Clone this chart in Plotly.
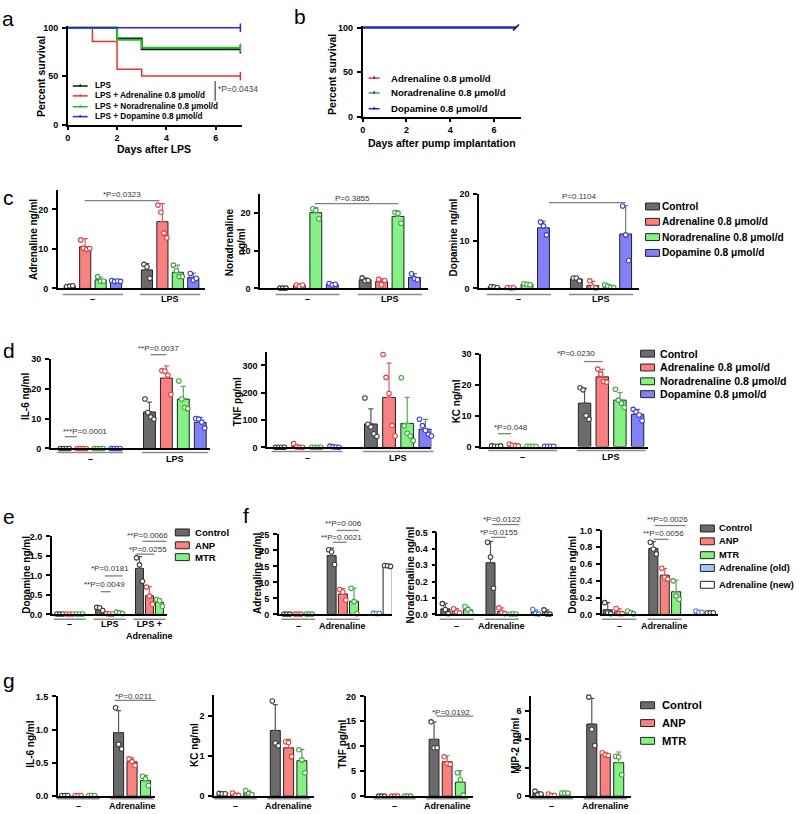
import plotly.graph_objects as go

W, H = 800, 814
FONT = "Liberation Sans"

# ---------------- data ----------------
# a: survival after LPS (percent)
DAYS_A = [0, 1, 2, 3, 7]
LPS_SURV = [100, 100, 88.9, 77.8, 77.8]
LPS_ADR_SURV = [100, 85.7, 57.1, 50.0, 50.0]
LPS_NOR_SURV = [100, 100, 87.5, 79.2, 79.2]
LPS_DOP_SURV = [100, 100, 100, 100, 100]
A_LABELS = ["LPS", "LPS + Adrenaline 0.8 μmol/d", "LPS + Noradrenaline 0.8 μmol/d",
            "LPS + Dopamine 0.8 μmol/d"]

# b: survival after pump implantation
DAYS_B = [0, 7]
ADR_SURV = [100, 100]
NOR_SURV = [100, 100]
DOP_SURV = [100, 100]
B_LABELS = ["Adrenaline 0.8 μmol/d", "Noradrenaline 0.8 μmol/d", "Dopamine 0.8 μmol/d"]

# c/d: groups "–" and "LPS", 4 pumps each
CD_GROUPS = ["–", "LPS"]
CD_SIZES = [4, 4]
CD_CONDS = ["ctrl", "adr", "nor", "dop"] * 2
CD_LABELS = ["Control", "Adrenaline 0.8 μmol/d", "Noradrenaline 0.8 μmol/d", "Dopamine 0.8 μmol/d"]

C_ADR_MEAN = [0.6, 10.6, 2.2, 1.9, 4.7, 16.9, 4.1, 2.8]
C_ADR_SD = [0.1, 2.0, 0.7, 0.1, 1.6, 4.6, 1.8, 1.1]
C_ADR_PTS = [[0.5, 0.6, 0.7], [12.3, 10.2, 9.9, 10.1], [3.0, 1.8, 1.9], [2.0, 1.8, 1.9, 1.8],
             [6.1, 5.5, 2.6], [21.1, 19.3, 14.0, 12.8], [5.9, 4.5, 3.0, 3.0], [3.8, 2.1, 2.6]]

C_NOR_MEAN = [0.1, 0.8, 20.0, 1.1, 2.3, 1.8, 19.0, 2.9]
C_NOR_SD = [0.05, 0.2, 1.3, 0.2, 0.5, 0.7, 1.4, 1.0]
C_NOR_PTS = [[0.1, 0.1, 0.1], [0.9, 0.6, 0.9], [21.0, 20.6, 18.4], [1.3, 1.0, 1.1],
             [2.8, 2.0, 2.1], [2.4, 1.0, 2.1], [20.0, 19.8, 17.2], [3.9, 2.6, 2.3]]

C_DOP_MEAN = [0.3, 0.15, 0.9, 12.8, 2.0, 0.6, 0.4, 11.5]
C_DOP_SD = [0.1, 0.05, 0.1, 1.4, 0.3, 0.9, 0.3, 6.0]
C_DOP_PTS = [[0.4, 0.3, 0.2], [0.2, 0.1, 0.15], [1.0, 0.9, 0.8], [14.0, 13.2, 11.3],
             [2.2, 2.2, 1.6], [1.6, 0.3, 0.1], [0.8, 0.5, 0.2, 0.2], [17.4, 11.3, 5.9]]

D_IL6_MEAN = [0.05, 0.05, 0.05, 0.05, 12.2, 23.5, 16.5, 8.7]
D_IL6_SD = [0, 0, 0, 0, 3.3, 4.1, 4.2, 1.7]
D_IL6_PTS = [[0, 0, 0, 0], [0, 0, 0, 0], [0, 0, 0, 0], [0, 0, 0, 0],
             [16.5, 12.0, 10.5, 9.8], [26.0, 25.8, 24.5, 18.0], [22.5, 16.5, 13.7, 13.3], [10.0, 9.8, 8.8, 6.8]]

D_TNF_MEAN = [1, 4, 1, 3, 86, 183, 88, 67]
D_TNF_SD = [0.5, 5, 0.5, 1.5, 55, 125, 95, 36]
D_TNF_PTS = [[1, 1, 1, 1], [14, 2, 1, 1], [1, 1, 1, 1], [5, 3, 2, 1],
             [181, 85, 75, 50, 40], [340, 256, 197, 80, 42], [255, 79, 52, 42, 25], [103, 80, 62, 48, 42]]

D_KC_MEAN = [0.15, 0.4, 0.1, 0.1, 14.0, 22.5, 15.0, 10.4]
D_KC_SD = [0.05, 0.25, 0.02, 0.02, 4.8, 2.4, 2.4, 1.6]
D_KC_PTS = [[0.2, 0.1, 0.1, 0.2], [0.8, 0.4, 0.3, 0.2], [0.1, 0.1, 0.1, 0.1], [0.1, 0.1, 0.1, 0.1],
            [19.0, 18.3, 10.0, 8.8], [25.0, 23.4, 21.0, 20.8], [18.5, 15.0, 14.0, 12.6], [12.0, 11.2, 10.2, 8.3]]

# e: dopamine with ANP / MTR
E_GROUPS = ["–", "LPS", "LPS +<br>Adrenaline"]
E_SIZES = [3, 3, 3]
E_CONDS = ["ctrl", "adr", "nor"] * 3
E_MEAN = [0.01, 0.01, 0.01, 0.15, 0.01, 0.04, 1.18, 0.48, 0.31]
E_SD = [0, 0, 0, 0.03, 0.005, 0.02, 0.30, 0.23, 0.09]
E_PTS = [[0.01, 0.01, 0.01], [0.01, 0.01, 0.01], [0.01, 0.01, 0.01],
         [0.18, 0.17, 0.10], [0.02, 0.01, 0.01], [0.06, 0.04, 0.02],
         [1.45, 1.27, 0.85], [0.70, 0.47, 0.26], [0.38, 0.35, 0.21]]
EG_LABELS = ["Control", "ANP", "MTR"]

# f: catecholamines after adrenaline
F_GROUPS = ["–", "Adrenaline", ""]
F_SIZES = [3, 3, 2]
F_CONDS = ["ctrl", "adr", "nor", "ctrl", "adr", "nor", "old", "new"]
F_LABELS = ["Control", "ANP", "MTR", "Adrenaline (old)", "Adrenaline (new)"]

F_ADR_MEAN = [0.1, 0.1, 0.1, 18.4, 6.4, 4.1, 0.3, 15.1]
F_ADR_SD = [0, 0, 0, 2.3, 1.7, 4.1, 0.1, 0.2]
F_ADR_PTS = [[0.1, 0.1, 0.1], [0.1, 0.1, 0.1], [0.1, 0.1, 0.1], [20.2, 19.5, 15.6],
             [7.8, 7.0, 4.5], [8.2, 4.0, 0.2], [0.4, 0.3, 0.3], [15.3, 15.2, 15.0]]

F_NOR_MEAN = [0.034, 0.02, 0.028, 0.315, 0.018, 0.003, 0.012, 0.01]
F_NOR_SD = [0.034, 0.015, 0.017, 0.13, 0.022, 0.001, 0.016, 0.018]
F_NOR_PTS = [[0.066, 0.03, 0.005], [0.035, 0.015, 0.01], [0.048, 0.03, 0.01], [0.44, 0.35, 0.16],
             [0.04, 0.01, 0.005], [0.003, 0.003, 0.003], [0.03, 0.005, 0.002], [0.028, 0.002, 0.002]]

F_DOP_MEAN = [0.055, 0.03, 0.03, 0.786, 0.467, 0.27, 0.03, 0.02]
F_DOP_SD = [0.085, 0.04, 0.015, 0.08, 0.08, 0.14, 0.01, 0.005]
F_DOP_PTS = [[0.14, 0.02, 0.01], [0.07, 0.01, 0.01], [0.04, 0.02, 0.005], [0.86, 0.78, 0.72],
             [0.55, 0.44, 0.42], [0.40, 0.22, 0.18], [0.04, 0.025, 0.025], [0.02, 0.02, 0.02]]

# g: cytokines after adrenaline
G_GROUPS = ["–", "Adrenaline"]
G_SIZES = [3, 3]
G_CONDS = ["ctrl", "adr", "nor"] * 2

G_IL6_MEAN = [0.01, 0.01, 0.01, 0.955, 0.517, 0.234]
G_IL6_SD = [0, 0, 0, 0.33, 0.06, 0.08]
G_IL6_PTS = [[0.01, 0.01, 0.01], [0.01, 0.01, 0.01], [0.01, 0.01, 0.01],
             [1.33, 0.78, 0.71], [0.56, 0.52, 0.46], [0.30, 0.26, 0.16]]

G_KC_MEAN = [0.06, 0.04, 0.08, 1.63, 1.2, 0.88]
G_KC_SD = [0.01, 0.03, 0.05, 0.64, 0.21, 0.28]
G_KC_PTS = [[0.07, 0.06, 0.06], [0.08, 0.02, 0.02], [0.14, 0.07, 0.04],
            [2.36, 1.32, 1.25], [1.35, 1.33, 0.98], [1.15, 0.9, 0.58]]

G_TNF_MEAN = [0.05, 0.05, 0.05, 11.4, 6.9, 2.8]
G_TNF_SD = [0, 0, 0, 3.5, 1.2, 2.3]
G_TNF_PTS = [[0, 0, 0], [0, 0, 0], [0, 0, 0], [14.9, 9.7, 9.7], [7.9, 6.5, 6.4], [4.7, 3.3, 0.2]]

G_MIP_MEAN = [0.2, 0.1, 0.2, 5.06, 2.93, 2.35]
G_MIP_SD = [0.12, 0.05, 0.02, 1.8, 0.15, 0.75]
G_MIP_PTS = [[0.35, 0.1, 0.15], [0.15, 0.05, 0.05], [0.22, 0.22, 0.22],
             [6.95, 4.7, 3.55], [3.05, 2.9, 2.85], [2.8, 2.75, 1.5]]

# ---------------- styles ----------------
FILL = {"ctrl": "#6b6b6b", "adr": "#fb8080", "nor": "#82f282", "dop": "#8080fb",
        "old": "#a4c8f4", "new": "#ffffff"}
EDGE = {"ctrl": "#3c3c3c", "adr": "#ea3b3b", "nor": "#3aa63a", "dop": "#3b3be6",
        "old": "#4a7fd8", "new": "#3c3c3c"}
ERR = {"ctrl": "#555555", "adr": "#e05a5a", "nor": "#5aa85a", "dop": "#777777",
       "old": "#4a7fd8", "new": "#555555"}

fig = go.Figure()
n_axes = 0


def px(x):
    return x / W


def py(y):
    return 1 - y / H


def text(x, y, s, size, bold=False, color="black", xanchor="center", yanchor="middle", angle=0):
    fig.add_annotation(x=px(x), y=py(y), xref="paper", yref="paper", text=s, showarrow=False,
                       font=dict(family=FONT, size=size, color=color, weight="bold" if bold else "normal"),
                       xanchor=xanchor, yanchor=yanchor, textangle=angle, borderpad=0)


def hline(x0, x1, y, color="#808080", width=1.3):
    fig.add_shape(type="line", xref="paper", yref="paper", x0=px(x0), x1=px(x1), y0=py(y), y1=py(y),
                  line=dict(color=color, width=width))


def make_axes(left, right, top, bottom, xrange, yrange, yticks, yfmt=None, xticks=None):
    global n_axes
    n_axes += 1
    s = "" if n_axes == 1 else str(n_axes)
    tickfont = dict(family=FONT, size=9, color="black", weight="bold")
    fig.update_layout(**{
        "xaxis" + s: dict(domain=[px(left), px(right)], range=xrange, anchor="y" + s,
                          showline=True, linecolor="black", linewidth=1.6, showgrid=False,
                          zeroline=False, ticks="outside" if xticks else "", tickvals=xticks or [],
                          showticklabels=bool(xticks), ticklen=4, tickwidth=1.5, tickcolor="black",
                          tickfont=tickfont, ticklabelstandoff=0),
        "yaxis" + s: dict(domain=[py(bottom), py(top)], range=yrange, anchor="x" + s,
                          showline=True, linecolor="black", linewidth=1.6, showgrid=False,
                          zeroline=False, ticks="outside", tickvals=yticks, ticklen=4,
                          tickwidth=1.5, tickcolor="black", tickfont=tickfont,
                          tickformat=yfmt, ticklabelstandoff=2),
    })
    return "x" + s, "y" + s


def bar_panel(box, yrange, yticks, ytitles, groups, sizes, conds, means, sds, pts,
              width=0.72, yfmt=None, pad=0.45, ul=5, lab=11):
    left, right, first_px, last_px, top, bottom = box
    pos = []
    p = 0
    for n in sizes:
        pos.extend(range(p, p + n))
        p += n + 1
    unit = (last_px - first_px) / pos[-1]
    xrange = [-(first_px - left) / unit, pos[-1] + (right - last_px) / unit]
    xr, yr = make_axes(left, right, top, bottom, xrange, yrange, yticks, yfmt)

    for key in dict.fromkeys(conds):
        idx = [i for i, c in enumerate(conds) if c == key]
        fig.add_trace(go.Bar(
            x=[pos[i] for i in idx], y=[means[i] for i in idx], width=width,
            marker=dict(color=FILL[key], line=dict(color="#222222", width=1)),
            error_y=dict(type="data", symmetric=False, array=[sds[i] for i in idx],
                         arrayminus=[0] * len(idx), color=ERR[key], thickness=1.2, width=2.5),
            xaxis=xr, yaxis=yr, cliponaxis=False))
        dx, dy = [], []
        for i in idx:
            n = len(pts[i])
            for j, v in enumerate(pts[i]):
                dx.append(pos[i] + (j - (n - 1) / 2) * 3.0 / unit)
                dy.append(v)
        fig.add_trace(go.Scatter(
            x=dx, y=dy, mode="markers", xaxis=xr, yaxis=yr, cliponaxis=False,
            marker=dict(size=4.5, color="white", line=dict(color=EDGE[key], width=1.1))))

    # group underlines and labels
    start = 0
    for g, n in zip(groups, sizes):
        if g:
            a = pos[start] - pad
            b = pos[start + n - 1] + pad
            x0 = left + (a - xrange[0]) * unit
            x1 = left + (b - xrange[0]) * unit
            hline(x0, x1, bottom + ul, color="#8a8a8a", width=1.5)
            text((x0 + x1) / 2, bottom + lab - 6, g, 9, bold=True, yanchor="top")
        start += n
    for label, tx, ty in ytitles:
        text(tx, ty, label, 10, bold=True, angle=-90)


def stat(label, tx, ty, x0, x1, ly):
    text(tx, ty, label, 8, color="#333333")
    hline(x0, x1, ly)


def square_legend(x_sq, x_txt, rows, keys, labels, size):
    for y, k, lab in zip(rows, keys, labels):
        fig.add_shape(type="rect", xref="paper", yref="paper", x0=px(x_sq), x1=px(x_sq + 14),
                      y0=py(y + 3.5), y1=py(y - 3.5), fillcolor=FILL[k],
                      line=dict(color="#222222", width=1))
        text(x_txt, y, lab, size, bold=True, xanchor="left")


# ---------------- panel a ----------------
xa, ya = make_axes(65, 240, 21, 121, [0, 7.07], [0, 102], [0, 50, 100], xticks=[0, 2, 4, 6])
a_series = [(LPS_SURV, "#111111", 2.0), (LPS_ADR_SURV, "#f03030", 1.5),
            (LPS_NOR_SURV, "#1fc01f", 2.0), (LPS_DOP_SURV, "#2424f0", 1.5)]
for vals, col, lw in a_series:
    fig.add_trace(go.Scatter(x=DAYS_A, y=vals, mode="lines", line=dict(shape="hv", color=col, width=lw),
                             xaxis=xa, yaxis=ya, cliponaxis=False))
    fig.add_trace(go.Scatter(x=[DAYS_A[-1]], y=[vals[-1]], mode="markers", xaxis=xa, yaxis=ya,
                             cliponaxis=False,
                             marker=dict(symbol="line-ns", size=6, line=dict(color=col, width=1.5))))
for (vals, col, lw), lab, y in zip(a_series, A_LABELS, [82, 92, 103, 113]):
    hline(70, 85, y, color=col, width=1.5)
    fig.add_shape(type="line", xref="paper", yref="paper", x0=px(77.5), x1=px(77.5), y0=py(y - 2),
                  y1=py(y + 1), line=dict(color=col, width=1))
    text(91, y, lab, 8.2, bold=True, xanchor="left")
fig.add_shape(type="line", xref="paper", yref="paper", x0=px(213), x1=px(213), y0=py(77), y1=py(97),
              line=dict(color="#555555", width=1.3))
text(215, 85, "*P=0.0434", 8.5, color="#444444", xanchor="left")
text(38, 72, "Percent survival", 10.5, bold=True, angle=-90)
text(152, 146, "Days after LPS", 10.5, bold=True)
text(5, 14, "a", 21)

# ---------------- panel b ----------------
xb, yb = make_axes(361, 520, 21, 113, [0, 7.23], [0, 102], [0, 50, 100], xticks=[0, 2, 4, 6])
b_series = [(ADR_SURV, "#f03030"), (NOR_SURV, "#2aa878"), (DOP_SURV, "#2424f0")]
for vals, col in b_series:
    fig.add_trace(go.Scatter(x=DAYS_B, y=vals, mode="lines", line=dict(shape="hv", color=col, width=1.8),
                             xaxis=xb, yaxis=yb, cliponaxis=False))
fig.add_trace(go.Scatter(x=[DAYS_B[-1]], y=[DOP_SURV[-1]], mode="markers", xaxis=xb, yaxis=yb,
                         cliponaxis=False,
                         marker=dict(symbol="line-ne", size=6, line=dict(color="#111111", width=1.5))))
for (vals, col), lab, y in zip(b_series, B_LABELS, [74, 89, 105]):
    hline(367, 378, y, color=col, width=1.5)
    fig.add_shape(type="line", xref="paper", yref="paper", x0=px(372.5), x1=px(372.5), y0=py(y - 2),
                  y1=py(y + 1), line=dict(color="#111111", width=1))
    text(388, y, lab, 9.6, bold=True, xanchor="left")
text(330, 70, "Percent survival", 10.5, bold=True, angle=-90)
text(441, 140, "Days after pump implantation", 10.5, bold=True)
text(298, 12, "b", 21)

# ---------------- panel c ----------------
bar_panel((55, 203, 67, 191, 187, 287), [0, 25], [0, 10, 20], [("Adrenaline ng/ml", 30, 237)],
          CD_GROUPS, CD_SIZES, CD_CONDS, C_ADR_MEAN, C_ADR_SD, C_ADR_PTS, ul=6)
bar_panel((258, 427, 281, 413, 191, 287), [0, 25], [0, 10, 20],
          [("Noradrenaline", 227, 240), ("ng/ml", 239, 240)],
          CD_GROUPS, CD_SIZES, CD_CONDS, C_NOR_MEAN, C_NOR_SD, C_NOR_PTS, ul=6)
bar_panel((478, 638, 493, 625, 191, 287), [0, 20], [0, 10, 20], [("Dopamine ng/ml", 452, 235)],
          CD_GROUPS, CD_SIZES, CD_CONDS, C_DOP_MEAN, C_DOP_SD, C_DOP_PTS, ul=6)
stat("*P=0.0323", 119, 192, 82, 157, 198)
stat("P=0.3855", 351, 196, 313, 397, 201)
stat("P=0.1104", 578, 194, 548, 625, 200)
square_legend(645, 660, [204, 219.5, 235, 251], ["ctrl", "adr", "nor", "dop"], CD_LABELS, 10.2)
text(6, 195, "c", 21)

# ---------------- panel d ----------------
bar_panel((48, 208, 62, 198, 358, 449), [0, 30], [0, 10, 20, 30], [("IL-6 ng/ml", 22, 396)],
          CD_GROUPS, CD_SIZES, CD_CONDS, D_IL6_MEAN, D_IL6_SD, D_IL6_PTS, width=0.7, ul=4)
bar_panel((265, 430, 278, 424, 351, 448), [0, 350], [0, 100, 200, 300], [("TNF pg/ml", 235, 402)],
          CD_GROUPS, CD_SIZES, CD_CONDS, D_TNF_MEAN, D_TNF_SD, D_TNF_PTS, width=0.7, ul=4)
bar_panel((480, 647, 495, 637, 353, 447), [0, 30], [0, 10, 20, 30], [("KC ng/ml", 455, 401)],
          CD_GROUPS, CD_SIZES, CD_CONDS, D_KC_MEAN, D_KC_SD, D_KC_PTS, width=0.7, ul=4)
stat("**P=0.0037", 156, 348, 148, 164, 354)
stat("***P=0.0001", 82, 432, 62, 74, 437)
stat("*P=0.0230", 575, 353, 583, 602, 361)
stat("*P=0.048", 510, 428, 497, 510, 434)
square_legend(640, 658, [353, 367, 381, 394], ["ctrl", "adr", "nor", "dop"], CD_LABELS, 10.6)
text(6, 350, "d", 21)

# ---------------- panel e ----------------
bar_panel((49, 165, 57, 157, 538, 617), [0, 2], [0, 0.5, 1.0, 1.5, 2.0], [("Dopamine ng/ml", 24, 577)],
          E_GROUPS, E_SIZES, E_CONDS, E_MEAN, E_SD, E_PTS, width=0.8, yfmt=".1f", pad=0.6, lab=10)
stat("**P=0.0066", 145, 537, 140, 164, 543)
stat("*P=0.0255", 146, 551, 133, 152, 556)
stat("*P=0.0181", 107, 571, 102, 120, 578)
stat("**P=0.0049", 102, 587, 98, 108, 594)
square_legend(173, 192, [534, 547, 559], ["ctrl", "adr", "nor"], EG_LABELS, 9.6)
text(6, 518, "e", 21)

# ---------------- panel f ----------------
bar_panel((277, 390, 285, 386, 536, 617), [0, 25], [0, 5, 10, 15, 20, 25], [("Adrenaline ng/ml", 256, 576)],
          F_GROUPS, F_SIZES, F_CONDS, F_ADR_MEAN, F_ADR_SD, F_ADR_PTS, width=0.8, pad=0.5, lab=12)
bar_panel((436, 552, 444, 546, 534, 617), [0, 0.5], [0, 0.1, 0.2, 0.3, 0.4, 0.5],
          [("Noradrenaline ng/ml", 409, 577)], F_GROUPS, F_SIZES, F_CONDS, F_NOR_MEAN, F_NOR_SD,
          F_NOR_PTS, width=0.8, yfmt=".1f", pad=0.5, lab=12)
bar_panel((601, 718, 607, 710, 532, 617), [0, 1], [0, 0.2, 0.4, 0.6, 0.8, 1.0],
          [("Dopamine ng/ml", 572, 577)], F_GROUPS, F_SIZES, F_CONDS, F_DOP_MEAN, F_DOP_SD, F_DOP_PTS,
          width=0.8, yfmt=".1f", pad=0.5, lab=12)
stat("**P=0.006", 342, 525, 335, 357, 532)
stat("**P=0.0021", 340, 539, 331, 345, 544)
stat("*P=0.0122", 501, 521, 491, 518, 526)
stat("*P=0.0155", 498, 534, 490, 505, 539)
stat("**P=0.0026", 667, 521, 654, 685, 527)
stat("**P=0.0056", 663, 535, 653, 668, 541)
square_legend(700, 718, [530, 543, 557, 570, 587], ["ctrl", "adr", "nor", "old", "new"], F_LABELS, 9.3)
text(244, 517, "f", 21)

# ---------------- panel g ----------------
bar_panel((55, 153, 62, 143, 700, 801), [0, 1.5], [0, 0.5, 1.0, 1.5], [("IL-6 ng/ml", 28, 748)],
          G_GROUPS, G_SIZES, G_CONDS, G_IL6_MEAN, G_IL6_SD, G_IL6_PTS, width=0.75, yfmt=".1f", pad=0.6,
          ul=2.5, lab=9.5)
bar_panel((212, 312, 220, 300, 699, 801), [0, 2.5], [0, 1, 2], [("KC ng/ml", 193, 749)],
          G_GROUPS, G_SIZES, G_CONDS, G_KC_MEAN, G_KC_SD, G_KC_PTS, width=0.75, pad=0.6, ul=2.5, lab=9.5)
bar_panel((364, 472, 380, 459, 700, 801), [0, 20], [0, 5, 10, 15, 20], [("TNF pg/ml", 341, 748)],
          G_GROUPS, G_SIZES, G_CONDS, G_TNF_MEAN, G_TNF_SD, G_TNF_PTS, width=0.75, pad=0.6, ul=2.5, lab=9.5)
bar_panel((530, 630, 537, 618, 700, 801), [0, 7], [0, 2, 4, 6], [("MIP-2 ng/ml", 515, 750)],
          G_GROUPS, G_SIZES, G_CONDS, G_MIP_MEAN, G_MIP_SD, G_MIP_PTS, width=0.75, pad=0.6, ul=2.5, lab=9.5)
stat("*P=0.0211", 131, 700, 112, 153, 704)
stat("*P=0.0192", 450, 716, 435, 472, 720)
square_legend(640, 660, [709, 727, 745], ["ctrl", "adr", "nor"], EG_LABELS, 11.2)
text(6, 684, "g", 21)

fig.update_layout(width=W, height=H, margin=dict(l=0, r=0, t=0, b=0), showlegend=False,
                  plot_bgcolor="white", paper_bgcolor="white", barmode="overlay",
                  font=dict(family=FONT, color="black"))
# the page body keeps its default 8px margin otherwise
fig.write_html("out.html", config={"displayModeBar": False},
               post_script="document.body.style.margin='0';")
